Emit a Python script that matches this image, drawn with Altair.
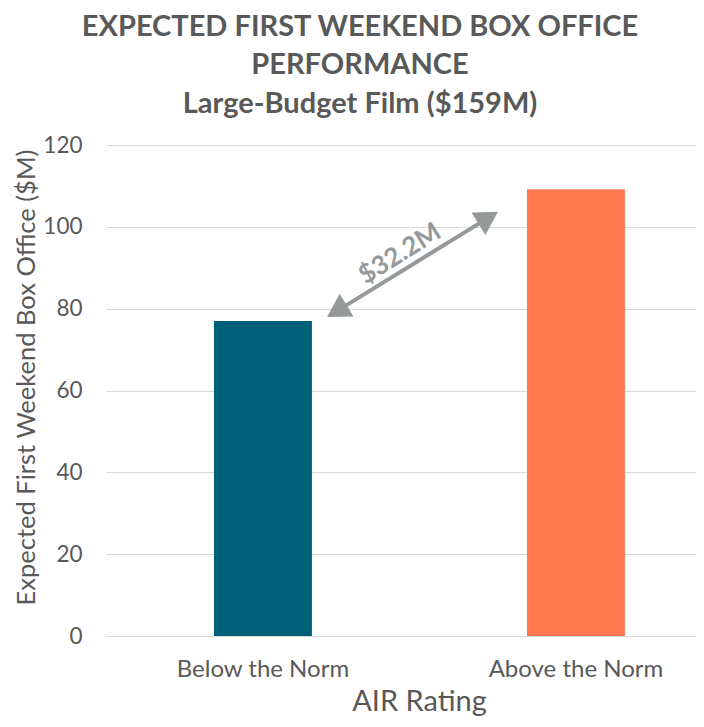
import altair as alt
import pandas as pd

# ---- data ----
categories = ["Below the Norm", "Above the Norm"]
values = [77.0, 109.2]
colors = ["#00607A", "#FF784F"]
y_ticks = [0, 20, 40, 60, 80, 100, 120]
diff_label = "$32.2M"

# annotation arrow: x in category-index units (0 = first bar centre, 1 = second)
arrow_x = [0.2358, 0.7195]
arrow_y = [79.4, 102.2]
label_x = [0.4377]
label_y = [93.4]

FONT = "Lato"
GRAY = "#595959"
ARROW = "#959999"

bars_df = pd.DataFrame({"rating": categories, "value": values})
shaft_df = pd.DataFrame({"x1": [arrow_x[0]], "x2": [arrow_x[1]],
                         "y1": [arrow_y[0]], "y2": [arrow_y[1]]})
head_df = pd.DataFrame({"x": arrow_x, "y": arrow_y, "ang": [238.4, 58.4]})
label_df = pd.DataFrame({"x": label_x, "y": label_y, "label": [diff_label]})

xscale = alt.Scale(domain=categories, paddingInner=0.687, paddingOuter=0.286, align=0.603)
yscale = alt.Scale(domain=[0, 120], nice=False)
ax_scale = alt.Scale(domain=[-0.5016, 1.3834], nice=False, zero=False)

bars = alt.Chart(bars_df).mark_bar().encode(
    x=alt.X("rating:N", scale=xscale, sort=categories,
            axis=alt.Axis(title="AIR Rating", labelAngle=0, labelFontSize=24,
                          labelColor=GRAY, labelFont=FONT, labelPadding=21,
                          titleFont=FONT, titleFontSize=29, titleColor=GRAY,
                          titleFontWeight="normal", titlePadding=6, titleX=313,
                          ticks=False, domainColor="#d9d9d9", grid=False)),
    y=alt.Y("value:Q", scale=yscale,
            axis=alt.Axis(title="Expected  First Weekend Box Office ($M)",
                          values=y_ticks, labelFontSize=22.5, labelColor=GRAY,
                          labelFont=FONT, labelPadding=24, ticks=False,
                          domain=False, gridColor="#d9d9d9", gridWidth=1,
                          titleFont=FONT, titleFontSize=25.5, titleColor=GRAY,
                          titleFontWeight="normal", titlePadding=3, titleY=232)),
    color=alt.Color("rating:N", scale=alt.Scale(domain=categories, range=colors),
                    legend=None),
)

shaft = alt.Chart(shaft_df).mark_rule(color=ARROW, strokeWidth=4).encode(
    x=alt.X("x1:Q", scale=ax_scale, axis=None),
    x2="x2:Q",
    y=alt.Y("y1:Q", scale=yscale),
    y2="y2:Q",
)

heads = alt.Chart(head_df).mark_point(shape="triangle-up", filled=True, size=700,
                                      color=ARROW, opacity=1).encode(
    x=alt.X("x:Q", scale=ax_scale, axis=None),
    y=alt.Y("y:Q", scale=yscale),
    angle=alt.Angle("ang:Q", scale=None),
)

label = alt.Chart(label_df).mark_text(angle=328, font=FONT, fontSize=26,
                                      fontWeight="bold", color=ARROW).encode(
    x=alt.X("x:Q", scale=ax_scale, axis=None),
    y=alt.Y("y:Q", scale=yscale),
    text="label:N",
)

annot = alt.layer(shaft, heads, label)

chart = alt.layer(bars, annot).resolve_scale(x="independent").properties(
    width=590, height=491,
    title=alt.TitleParams(
        text=["EXPECTED FIRST WEEKEND BOX OFFICE", "PERFORMANCE"],
        subtitle="Large-Budget Film ($159M)",
        font=FONT, fontSize=29, fontWeight="bold", color=GRAY,
        subtitleFont=FONT, subtitleFontSize=29, subtitleFontWeight="bold",
        subtitleColor=GRAY, lineHeight=38, subtitleLineHeight=38,
        subtitlePadding=10, anchor="middle", frame="group", dx=-41, offset=15,
    ),
    autosize=alt.AutoSizeParams(type="none"),
    padding={"left": 98, "top": 137, "right": 0, "bottom": 81},
).configure_view(stroke=None)

chart.save("out.html", embed_options={"renderer": "svg", "actions": False})
